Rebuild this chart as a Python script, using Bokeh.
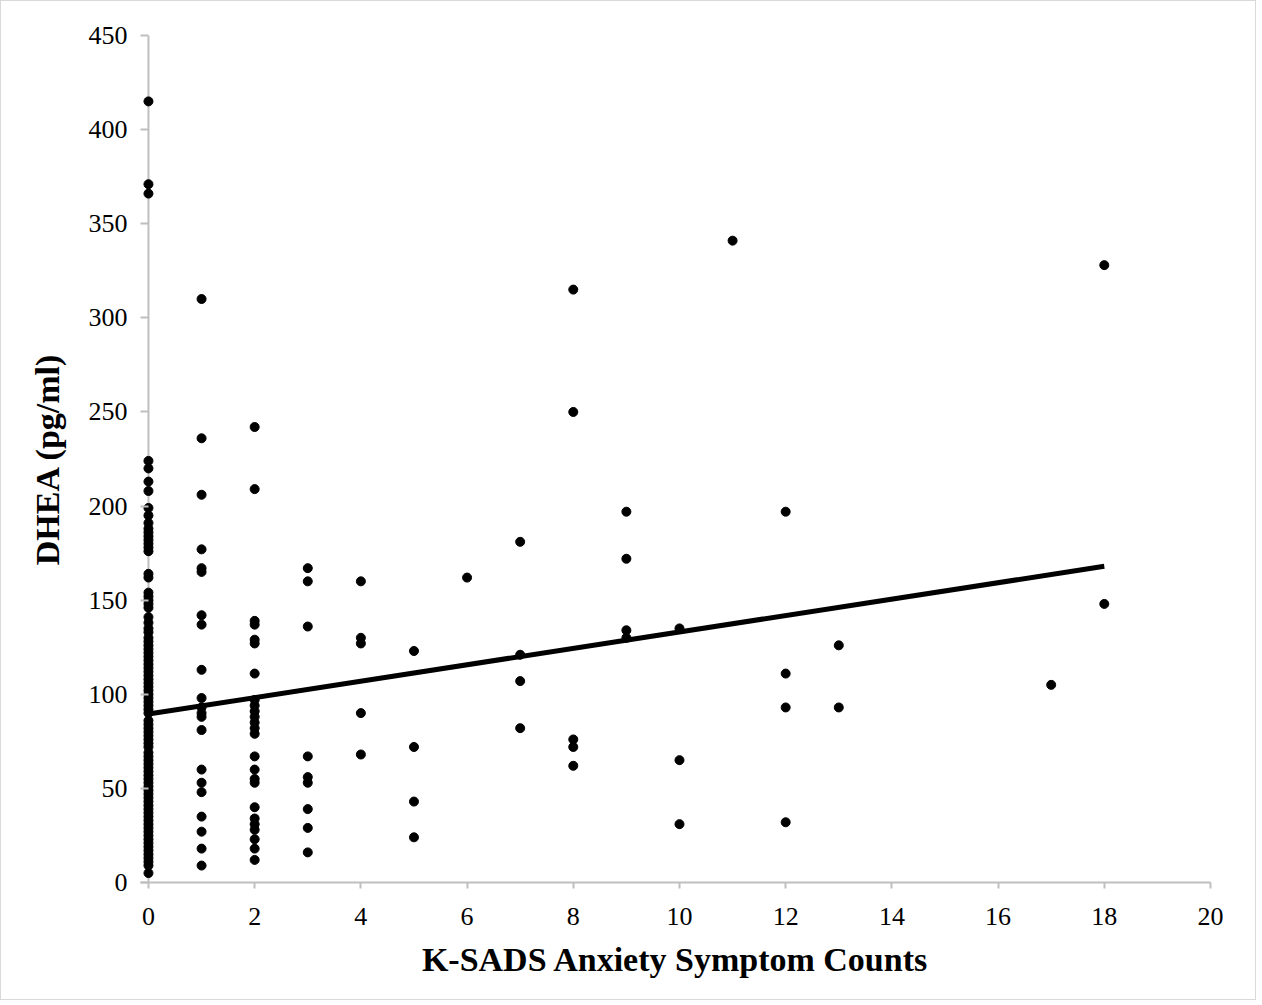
from bokeh.plotting import figure
from bokeh.models import Range1d, FixedTicker, ColumnDataSource, Span
from bokeh.embed import file_html
from bokeh.resources import INLINE

# ---- data ----
x0_vals = [415, 371, 366, 224, 220, 213, 208, 199, 195, 191, 188, 186, 184, 182,
           180, 178, 176, 164, 162, 154, 152, 150, 148, 146, 141, 138, 135, 133,
           130, 128, 126, 124, 122, 120, 118, 116, 114, 112, 110, 108, 106, 104,
           102, 100, 98, 96, 94, 92, 90, 86, 84, 82, 80, 78, 76, 74, 72, 69, 67,
           65, 63, 61, 59, 57, 55, 53, 51, 49, 47, 45, 43, 41, 39, 37, 35, 33, 31,
           29, 27, 25, 23, 21, 19, 17, 15, 13, 11, 9, 5]
x1_vals = [310, 236, 206, 177, 167, 165, 142, 137, 113, 98, 93, 90, 88, 81, 60,
           53, 48, 35, 27, 18, 9]
x2_vals = [242, 209, 139, 137, 129, 127, 111, 97, 94, 91, 88, 85, 82, 79, 67, 60,
           55, 53, 40, 34, 31, 28, 23, 18, 12]
x3_vals = [167, 160, 136, 67, 56, 53, 39, 29, 16]
x4_vals = [160, 130, 127, 90, 68]
x5_vals = [123, 72, 43, 24]
x6_vals = [162]
x7_vals = [181, 121, 107, 82]
x8_vals = [315, 250, 76, 72, 62]
x9_vals = [197, 172, 134, 130]
x10_vals = [135, 65, 31]
x11_vals = [341]
x12_vals = [197, 111, 93, 32]
x13_vals = [126, 93]
x17_vals = [105]
x18_vals = [328, 148]

columns = {0: x0_vals, 1: x1_vals, 2: x2_vals, 3: x3_vals, 4: x4_vals,
           5: x5_vals, 6: x6_vals, 7: x7_vals, 8: x8_vals, 9: x9_vals,
           10: x10_vals, 11: x11_vals, 12: x12_vals, 13: x13_vals,
           17: x17_vals, 18: x18_vals}

trend_x = [0, 18]
trend_y = [89.5, 168]

x_ticks = list(range(0, 21, 2))
y_ticks = list(range(0, 451, 50))

xs, ys = [], []
for k, vals in columns.items():
    xs.extend([k] * len(vals))
    ys.extend(vals)
src = ColumnDataSource(data=dict(x=xs, y=ys))

FONT = "Liberation Serif"
AXIS_GREY = "#bfbfbf"

p = figure(width=1256, height=1000, output_backend="svg", toolbar_location=None,
           x_range=Range1d(-0.15, 20), y_range=Range1d(0, 450),
           min_border_left=139, min_border_right=47, min_border_top=34,
           min_border_bottom=119)
p.styles = {"border": "1px solid #d9d9d9"}

p.xgrid.visible = False
p.ygrid.visible = False
p.outline_line_color = None
p.background_fill_color = "white"
p.border_fill_color = "white"

for ax, ticks in ((p.xaxis, x_ticks), (p.yaxis, y_ticks)):
    ax.ticker = FixedTicker(ticks=ticks)
    ax.axis_line_color = AXIS_GREY
    ax.axis_line_width = 2
    ax.major_tick_line_color = AXIS_GREY
    ax.major_tick_line_width = 2
    ax.major_tick_out = 6
    ax.major_tick_in = 0
    ax.minor_tick_line_color = None
    ax.major_label_text_font = FONT
    ax.major_label_text_font_size = "26px"
    ax.major_label_text_color = "black"
    ax.axis_label_text_font = FONT
    ax.axis_label_text_font_size = "34px"
    ax.axis_label_text_font_style = "bold"
    ax.axis_label_text_color = "black"

# y axis: line drawn at x = 0 (slightly inside the frame so the x=0 dots are not cut)
p.yaxis.axis_line_color = None
p.yaxis.major_tick_out = 0
p.yaxis.major_tick_in = 8
p.add_layout(Span(location=0, dimension="height", line_color=AXIS_GREY,
                  line_width=2, level="underlay"))

p.xaxis.axis_label = "K-SADS Anxiety Symptom Counts"
p.yaxis.axis_label = "DHEA (pg/ml)"
p.xaxis.major_label_standoff = 19
p.yaxis.major_label_standoff = 13
p.xaxis.axis_label_standoff = 13
p.yaxis.axis_label_standoff = 20

p.scatter("x", "y", source=src, size=9, color="black")
p.line(trend_x, trend_y, line_color="black", line_width=5)

open("out.html", "w").write(file_html(p, INLINE))
